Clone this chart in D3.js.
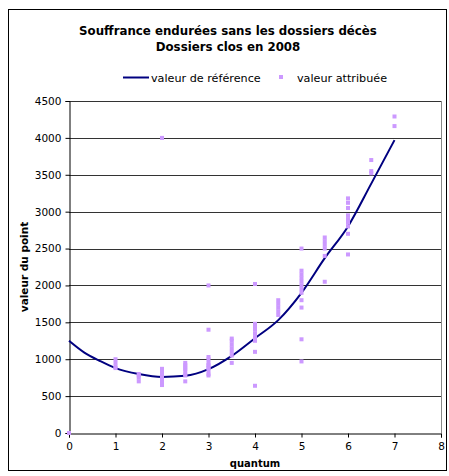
<!DOCTYPE html>
<html>
<head>
<meta charset="utf-8">
<script src="https://cdn.jsdelivr.net/npm/d3@7"></script>
<style>
	body { margin: 0; background: #fff; }
	text { font-family: "DejaVu Sans", Verdana, sans-serif; fill: #000; }
</style>
</head>
<body>
<div id="chart"></div>
<script>
// courbe de référence
const refQuantum = [0, 0.33, 0.67, 1, 1.5, 2, 2.5, 3, 3.5, 4, 4.5, 5, 5.5, 6, 6.5, 7];
const refValeur = [1250, 1090, 975, 880, 800, 760, 775, 865, 1045, 1285, 1530, 1900, 2370, 2800, 3380, 3970];

// valeurs attribuées, par quantum
const attrQuantum = [0, 1, 1.5, 2, 2.5, 3, 3.5, 4, 4.5, 5, 5.5, 6, 6.5, 7];
const attrValeurs = [
	[0],
	[1000, 950, 900, 880],
	[800, 780, 750, 700],
	[4000, 870, 840, 800, 780, 750, 720, 700, 680, 650],
	[950, 920, 900, 870, 850, 800, 780, 700],
	[2000, 1400, 1030, 1000, 950, 920, 900, 880, 850, 800, 780],
	[1280, 1250, 1200, 1150, 1100, 1050, 950],
	[2020, 1480, 1450, 1400, 1350, 1300, 1250, 1100, 640],
	[1800, 1750, 1700, 1650, 1600],
	[2500, 2200, 2150, 2100, 2050, 2000, 1950, 1900, 1800, 1700, 1270, 970],
	[2650, 2600, 2550, 2500, 2400, 2050],
	[3180, 3120, 3050, 2950, 2900, 2850, 2800, 2700, 2420],
	[3700, 3550, 3520],
	[4290, 4160],
];

const xTicks = [0, 1, 2, 3, 4, 5, 6, 7, 8];
const yTicks = [0, 500, 1000, 1500, 2000, 2500, 3000, 3500, 4000, 4500];

const width = 449;
const height = 476;
const plot = { left: 69, right: 441, top: 101, bottom: 433 };

const svg = d3
	.select("#chart")
	.append("svg")
	.attr("width", width)
	.attr("height", height);

// cadre
svg.append("rect")
	.attr("x", 8.5)
	.attr("y", 9.5)
	.attr("width", 438)
	.attr("height", 461)
	.attr("fill", "#fff")
	.attr("stroke", "#000")
	.attr("stroke-width", 1);

const x = d3.scaleLinear().domain([0, 8]).range([plot.left, plot.right]);
const y = d3.scaleLinear().domain([0, 4500]).range([plot.bottom, plot.top]);

// grille
svg.append("g")
	.selectAll("line")
	.data(yTicks.filter((d) => d > 0))
	.enter()
	.append("line")
	.attr("x1", plot.left)
	.attr("x2", plot.right)
	.attr("y1", (d) => Math.round(y(d)) + 0.5)
	.attr("y2", (d) => Math.round(y(d)) + 0.5)
	.attr("stroke", "#333");

svg.append("line")
	.attr("x1", plot.right + 0.5)
	.attr("x2", plot.right + 0.5)
	.attr("y1", plot.top)
	.attr("y2", plot.bottom)
	.attr("stroke", "#888");

// axes
const xAxis = d3.axisBottom(x).tickValues(xTicks).tickSize(4).tickFormat((d) => d);
const yAxis = d3.axisLeft(y).tickValues(yTicks).tickSize(4).tickFormat((d) => d);

const gx = svg.append("g")
	.attr("transform", `translate(0, ${plot.bottom + 0.5})`)
	.call(xAxis);
const gy = svg.append("g")
	.attr("transform", `translate(${plot.left + 0.5}, 0)`)
	.call(yAxis);

[gx, gy].forEach((g) => {
	g.select(".domain").attr("stroke", "#000");
	g.selectAll(".tick line").attr("stroke", "#000");
	g.selectAll(".tick text")
		.attr("font-family", "DejaVu Sans, Verdana, sans-serif")
		.attr("font-size", "10.5px")
		.attr("fill", "#000");
});
gx.selectAll(".tick text").attr("dy", "0.9em");
gy.selectAll(".tick text").attr("dx", "-0.1em");

// courbe
svg.append("path")
	.datum(refQuantum.map((q, i) => [q, refValeur[i]]))
	.attr("fill", "none")
	.attr("stroke", "#000080")
	.attr("stroke-width", 2)
	.attr("d", d3.line().x((d) => x(d[0])).y((d) => y(d[1])).curve(d3.curveMonotoneX));

// points
const points = [];
attrQuantum.forEach((q, i) => attrValeurs[i].forEach((v) => points.push([q, v])));

svg.append("g")
	.selectAll("rect")
	.data(points)
	.enter()
	.append("rect")
	.attr("x", (d) => x(d[0]) - 2)
	.attr("y", (d) => y(d[1]) - 2)
	.attr("width", 4)
	.attr("height", 4)
	.attr("fill", "#cc99ff");

// titres
svg.append("text")
	.attr("x", 228)
	.attr("y", 35)
	.attr("text-anchor", "middle")
	.attr("font-size", "11.8px")
	.attr("font-weight", "bold")
	.text("Souffrance endurées sans les dossiers décès");
svg.append("text")
	.attr("x", 228)
	.attr("y", 51)
	.attr("text-anchor", "middle")
	.attr("font-size", "11.8px")
	.attr("font-weight", "bold")
	.text("Dossiers clos en 2008");

svg.append("text")
	.attr("x", (plot.left + plot.right) / 2)
	.attr("y", 467)
	.attr("text-anchor", "middle")
	.attr("font-size", "10px")
	.attr("font-weight", "bold")
	.text("quantum");

svg.append("text")
	.attr("transform", `translate(28, ${(plot.top + plot.bottom) / 2}) rotate(-90)`)
	.attr("text-anchor", "middle")
	.attr("font-size", "10.5px")
	.attr("font-weight", "bold")
	.text("valeur du point");

// légende
const legend = svg.append("g");
legend.append("line")
	.attr("x1", 123)
	.attr("x2", 149)
	.attr("y1", 77.5)
	.attr("y2", 77.5)
	.attr("stroke", "#000080")
	.attr("stroke-width", 2);
legend.append("text")
	.attr("x", 151)
	.attr("y", 82)
	.attr("font-size", "11.2px")
	.text("valeur de référence");
legend.append("rect")
	.attr("x", 279)
	.attr("y", 75)
	.attr("width", 4)
	.attr("height", 4)
	.attr("fill", "#cc99ff");
legend.append("text")
	.attr("x", 297)
	.attr("y", 82)
	.attr("font-size", "11.2px")
	.text("valeur attribuée");
</script>
</body>
</html>
